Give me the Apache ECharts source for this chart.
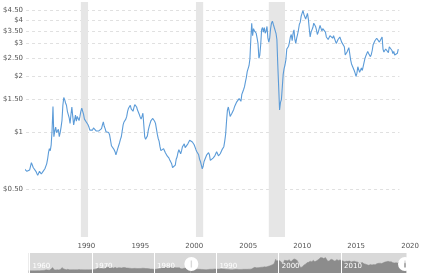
<!DOCTYPE html>
<html>
<head>
<meta charset="utf-8">
<script src="https://cdn.jsdelivr.net/npm/echarts@6/dist/echarts.min.js"></script>
<style>
  html, body { margin: 0; padding: 0; background: #fff; }
  #chart { width: 422px; height: 273px; }
</style>
</head>
<body>
<div id="chart"></div>
<script>
// copper price, $ per pound
// before 1985 only the navigator shadow shows it, so a coarse series is enough
const earlyDates = [
  '1959-07', '1960-01', '1960-07', '1961-01', '1961-07', '1962-01', '1962-07', '1963-01', '1963-07',
  '1964-01', '1964-07', '1965-01', '1965-07', '1966-01', '1966-07', '1967-01', '1967-07', '1968-01',
  '1968-07', '1969-01', '1969-07', '1970-01', '1970-07', '1971-01', '1971-07', '1972-01', '1972-07',
  '1973-01', '1973-07', '1974-01', '1974-04', '1974-07', '1975-01', '1975-07', '1976-01', '1976-07',
  '1977-01', '1977-07', '1978-01', '1978-07', '1979-01', '1979-07', '1980-02', '1980-07', '1981-01',
  '1981-07', '1982-01', '1982-07', '1983-01', '1983-07', '1984-01', '1984-07'
];
const earlyPrices = [
  0.31, 0.33, 0.32, 0.29, 0.30, 0.30, 0.30, 0.30, 0.30,
  0.32, 0.33, 0.35, 0.36, 0.36, 0.36, 0.37, 0.38, 0.42,
  0.41, 0.44, 0.48, 0.56, 0.60, 0.50, 0.52, 0.50, 0.51,
  0.56, 0.80, 0.95, 1.30, 1.00, 0.60, 0.56, 0.58, 0.72,
  0.64, 0.60, 0.58, 0.63, 0.78, 0.88, 1.30, 0.95, 0.85,
  0.80, 0.72, 0.62, 0.75, 0.76, 0.65, 0.60
];

// monthly from Jan 1985, one row per year
const monthlyStart = 1985;
const monthlyPrices = [
  0.60, 0.61, 0.62, 0.64, 0.63, 0.63, 0.62, 0.61, 0.62, 0.63, 0.66, 0.69,
  0.67, 0.65, 0.66, 0.64, 0.62, 0.61, 0.59, 0.60, 0.62, 0.61, 0.60, 0.61,
  0.62, 0.63, 0.64, 0.65, 0.68, 0.72, 0.78, 0.82, 0.80, 0.86, 1.03, 1.38,
  0.95, 1.02, 1.07, 1.00, 0.98, 1.04, 0.95, 1.00, 1.07, 1.16, 1.40, 1.54,
  1.50, 1.44, 1.40, 1.30, 1.32, 1.20, 1.12, 1.25, 1.37, 1.22, 1.10, 1.12,
  1.24, 1.15, 1.22, 1.20, 1.16, 1.22, 1.30, 1.35, 1.32, 1.25, 1.18, 1.16,
  1.14, 1.12, 1.10, 1.07, 1.03, 1.01, 1.02, 1.03, 1.06, 1.07, 1.05, 1.02,
  1.00, 1.01, 1.02, 1.00, 1.02, 1.05, 1.10, 1.14, 1.08, 1.05, 1.01, 1.03,
  1.01, 1.00, 0.97, 0.91, 0.85, 0.84, 0.86, 0.81, 0.79, 0.76, 0.77, 0.82,
  0.85, 0.88, 0.92, 0.95, 1.02, 1.10, 1.14, 1.16, 1.18, 1.22, 1.30, 1.35,
  1.38, 1.40, 1.34, 1.33, 1.30, 1.36, 1.41, 1.39, 1.37, 1.32, 1.29, 1.25,
  1.21, 1.18, 1.22, 1.27, 1.24, 0.95, 0.92, 0.91, 0.96, 1.03, 1.08, 1.12,
  1.16, 1.14, 1.19, 1.21, 1.15, 1.12, 1.05, 0.98, 0.93, 0.90, 0.84, 0.80,
  0.81, 0.80, 0.82, 0.81, 0.78, 0.77, 0.75, 0.74, 0.73, 0.71, 0.70, 0.68,
  0.65, 0.64, 0.66, 0.67, 0.72, 0.74, 0.78, 0.81, 0.79, 0.77, 0.80, 0.84,
  0.86, 0.87, 0.83, 0.82, 0.84, 0.87, 0.88, 0.91, 0.93, 0.90, 0.89, 0.87,
  0.86, 0.84, 0.81, 0.79, 0.80, 0.76, 0.72, 0.70, 0.67, 0.64, 0.66, 0.70,
  0.72, 0.74, 0.76, 0.76, 0.78, 0.76, 0.71, 0.70, 0.72, 0.73, 0.74, 0.75,
  0.77, 0.79, 0.77, 0.75, 0.76, 0.77, 0.79, 0.81, 0.82, 0.84, 0.90, 0.98,
  1.15, 1.32, 1.37, 1.30, 1.22, 1.20, 1.27, 1.29, 1.33, 1.38, 1.40, 1.45,
  1.43, 1.48, 1.52, 1.50, 1.47, 1.60, 1.65, 1.70, 1.76, 1.87, 1.97, 2.12,
  2.20, 2.28, 2.48, 3.15, 3.85, 3.30, 3.60, 3.50, 3.45, 3.40, 3.20, 3.00,
  2.50, 2.60, 2.95, 3.55, 3.65, 3.45, 3.65, 3.40, 3.50, 3.70, 3.20, 3.05,
  3.20, 3.60, 3.85, 3.95, 3.80, 3.75, 3.85, 3.40, 3.15, 2.30, 1.75, 1.32,
  1.45, 1.50, 1.75, 2.05, 2.20, 2.30, 2.45, 2.80, 2.80, 2.90, 3.05, 3.25,
  3.35, 3.10, 3.40, 3.55, 3.15, 3.00, 3.20, 3.35, 3.55, 3.80, 3.90, 4.20,
  4.35, 4.50, 4.30, 4.35, 4.05, 4.10, 4.35, 4.05, 3.60, 3.25, 3.45, 3.40,
  3.65, 3.85, 3.85, 3.70, 3.55, 3.35, 3.45, 3.40, 3.75, 3.70, 3.50, 3.60,
  3.65, 3.65, 3.45, 3.25, 3.30, 3.15, 3.10, 3.30, 3.25, 3.25, 3.20, 3.30,
  3.30, 3.25, 3.00, 3.05, 3.15, 3.10, 3.25, 3.15, 3.05, 3.05, 3.00, 2.88,
  2.60, 2.58, 2.70, 2.75, 2.85, 2.65, 2.45, 2.33, 2.35, 2.38, 2.15, 2.08,
  2.00, 2.08, 2.25, 2.20, 2.10, 2.10, 2.22, 2.15, 2.15, 2.15, 2.50, 2.58,
  2.60, 2.72, 2.65, 2.60, 2.55, 2.62, 2.75, 2.95, 2.97, 3.10, 3.10, 3.20,
  3.22, 3.15, 3.05, 3.10, 3.08, 3.25, 2.80, 2.70, 2.72, 2.80, 2.77, 2.75,
  2.68, 2.88, 2.92, 2.92, 2.75, 2.65, 2.72, 2.60, 2.60, 2.62, 2.66, 2.80
];

const recessions = [['1990-07', '1991-03'], ['2001-03', '2001-11'], ['2007-12', '2009-06']];
const yTicks = [0.5, 1, 1.5, 2, 2.5, 3, 3.5, 4, 4.5];
const xTicks = [1990, 1995, 2000, 2005, 2010, 2015, 2020];
const navTicks = [1960, 1970, 1980, 1990, 2000, 2010];

const toYear = s => {
  const [y, m] = s.split('-').map(Number);
  return y + (m - 1) / 12;
};

const seriesData = earlyDates.map((d, i) => [toYear(d), earlyPrices[i]]);
monthlyPrices.forEach((p, i) => seriesData.push([monthlyStart + i / 12, p]));

const labelFont = { fontFamily: 'DejaVu Sans', fontSize: 7 };
const fmtPrice = v => {
  const r = Math.round(v * 100) / 100;
  return '$' + (Number.isInteger(r) ? r : r.toFixed(2));
};

const chart = echarts.init(document.getElementById('chart'));
chart.setOption({
  animation: false,
  grid: [
    { left: 26, right: 18, top: 2, bottom: 36 },
    { left: 26, right: 18, top: 253, height: 22 }
  ],
  xAxis: [
    {
      type: 'value', gridIndex: 0, min: 1959.45, max: 2020.1,
      axisLine: { show: false },
      axisTick: { show: false, customValues: xTicks },
      splitLine: { show: false },
      axisLabel: {
        ...labelFont, customValues: xTicks, align: 'left', margin: 6,
        padding: [0, 0, 0, 2], color: '#555', formatter: v => String(Math.round(v))
      }
    },
    {
      type: 'value', gridIndex: 1, min: 1959.45, max: 2020.1, z: 10,
      axisLine: { show: false },
      axisTick: { show: false, customValues: navTicks },
      splitLine: { show: true, lineStyle: { color: '#fff', width: 1 } },
      axisLabel: {
        ...labelFont, customValues: navTicks, inside: true, align: 'left',
        margin: 3, padding: [0, 0, 0, 3], color: '#fff',
        formatter: v => String(Math.round(v))
      }
    }
  ],
  yAxis: [
    {
      type: 'log', gridIndex: 0, logBase: 10, min: 0.276, max: 5,
      axisLine: { show: false },
      axisTick: { show: false, customValues: yTicks },
      splitLine: { show: true, lineStyle: { color: '#e0e0e0', type: [3, 3], width: 1 } },
      axisLabel: { ...labelFont, customValues: yTicks, margin: 3, color: '#555', formatter: fmtPrice }
    },
    { type: 'value', gridIndex: 1, show: false, min: 0, max: 1 }
  ],
  dataZoom: [{
    type: 'slider',
    xAxisIndex: 0,
    filterMode: 'none',
    startValue: 1985.42,
    endValue: 2020.02,
    left: 26, right: 18, top: 253, height: 22,
    backgroundColor: '#d9d9d9',
    borderColor: 'transparent',
    fillerColor: 'rgba(0,0,0,0)',
    showDetail: false,
    brushSelect: false,
    moveHandleSize: 0,
    showDataShadow: true,
    dataBackground: {
      lineStyle: { color: '#8c8c8c', width: 0.5, opacity: 1 },
      areaStyle: { color: '#8c8c8c', opacity: 1 }
    },
    selectedDataBackground: {
      lineStyle: { color: '#8c8c8c', width: 0.5, opacity: 1 },
      areaStyle: { color: '#8c8c8c', opacity: 1 }
    },
    handleIcon: 'path://M10,0 A10,10 0 1,1 10,20 A10,10 0 1,1 10,0 Z M9,5 L9,15 L11,15 L11,5 Z',
    handleSize: 14,
    handleStyle: { color: '#fff', borderWidth: 0 }
  }],
  series: [{
    type: 'line',
    xAxisIndex: 0,
    yAxisIndex: 0,
    data: seriesData,
    showSymbol: false,
    lineStyle: { color: '#5b9bd8', width: 1.1 },
    markArea: {
      silent: true,
      itemStyle: { color: '#e6e6e6' },
      data: recessions.map(([a, b]) => [{ xAxis: toYear(a) }, { xAxis: toYear(b) }])
    }
  }]
});
</script>
</body>
</html>
